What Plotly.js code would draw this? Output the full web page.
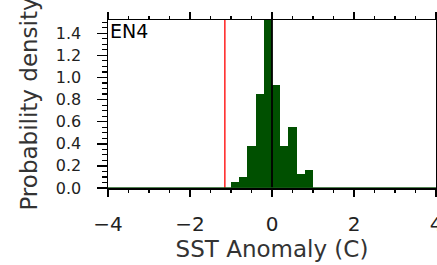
<!DOCTYPE html>
<html>
<head>
<meta charset="utf-8">
<script src="https://cdn.plot.ly/plotly-3.0.1.min.js"></script>
<style>html,body{margin:0;padding:0;background:#fff;}#chart{width:437px;height:265px;}</style>
</head>
<body>
<div id="chart"></div>
<script>
// Histogram bin centres (SST anomaly, C) and probability densities
const binCenters = [-0.9, -0.7, -0.5, -0.3, -0.1, 0.1, 0.3, 0.5, 0.7, 0.9];
const densities  = [0.05, 0.10, 0.38, 0.855, 1.60, 0.93, 0.38, 0.555, 0.13, 0.165];
const binWidth = 0.2;
// Reference lines
const thresholdX = -1.15;   // red line
const zeroX = 0;            // black line
const xTickVals = [-4, -2, 0, 2, 4];
const yTickVals = [0.0, 0.2, 0.4, 0.6, 0.8, 1.0, 1.2, 1.4];
const panelLabel = "EN4";
const xTitle = "SST Anomaly (C)";
const yTitle = "Probability density";
const yMax = 1.52;

const font = "DejaVu Sans, Arial, sans-serif";

const data = [{
  type: "bar",
  x: binCenters,
  y: densities,
  width: binCenters.map(() => binWidth),
  marker: {color: "#005000", line: {width: 0}},
  hoverinfo: "skip"
}];

const layout = {
  width: 437, height: 265,
  margin: {l: 108, r: 1, t: 20, b: 77, pad: 0},
  paper_bgcolor: "#fff", plot_bgcolor: "#fff",
  showlegend: false,
  bargap: 0,
  font: {family: font, color: "#222"},
  xaxis: {
    range: [-4, 4],
    tickvals: xTickVals,
    ticks: "outside", ticklen: 7, tickwidth: 1.5, tickcolor: "#000",
    tickfont: {size: 20, family: font, color: "#222"},
    ticklabelstandoff: 10,
    ticklabeloverflow: "allow",
    minor: {dtick: 0.5, ticks: "outside", ticklen: 3, tickwidth: 1.2, tickcolor: "#000", showgrid: false},
    showline: true, linecolor: "#000", linewidth: 1.5, mirror: "ticks",
    showgrid: false, zeroline: false,
    title: {text: xTitle, font: {size: 23, family: font, color: "#333"}, standoff: 6}
  },
  yaxis: {
    range: [0, yMax],
    tickvals: yTickVals,
    tickformat: ".1f",
    ticks: "outside", ticklen: 10, tickwidth: 1.5, tickcolor: "#000",
    tickfont: {size: 16, family: font, color: "#222"},
    ticklabelstandoff: 12,
    minor: {dtick: 0.05, ticks: "outside", ticklen: 5, tickwidth: 1.2, tickcolor: "#000", showgrid: false},
    showline: true, linecolor: "#000", linewidth: 1.5, mirror: "ticks",
    showgrid: false, zeroline: false,
    title: {text: yTitle, font: {size: 23, family: font, color: "#333"}, standoff: 12}
  },
  shapes: [
    {type: "line", xref: "x", yref: "paper", x0: thresholdX, x1: thresholdX, y0: 0, y1: 1,
     line: {color: "#ff2020", width: 1.5}},
    {type: "line", xref: "x", yref: "paper", x0: zeroX, x1: zeroX, y0: 0, y1: 1,
     line: {color: "#000", width: 1.8}},
    {type: "line", xref: "paper", yref: "y", x0: 0, x1: 1, y0: 0, y1: 0,
     line: {color: "#1a5a1a", width: 1.5}}
  ],
  annotations: [{
    text: panelLabel, xref: "paper", yref: "paper", x: 0, y: 1,
    xanchor: "left", yanchor: "top", showarrow: false, xshift: 0, yshift: 2,
    font: {size: 19, family: font, color: "#000"}
  }]
};

Plotly.newPlot("chart", data, layout, {displayModeBar: false, staticPlot: true});
</script>
</body>
</html>
